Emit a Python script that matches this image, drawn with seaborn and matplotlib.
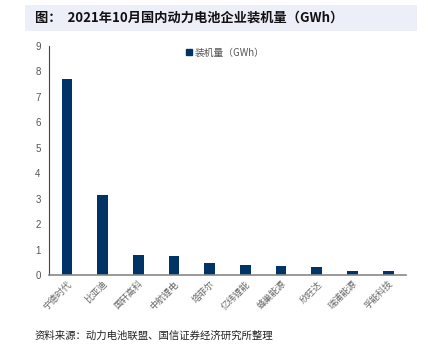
import matplotlib
matplotlib.use("Agg")
import matplotlib.pyplot as plt
import seaborn as sns
import pandas as pd
from matplotlib.patches import Rectangle, Patch

companies = ["宁德时代", "比亚迪", "国轩高科", "中航锂电", "塔菲尔",
             "亿纬锂能", "蜂巢能源", "欣旺达", "瑞浦能源", "孚能科技"]
values = [7.7, 3.13, 0.79, 0.76, 0.46, 0.41, 0.34, 0.33, 0.16, 0.16]
yticks = list(range(0, 10))
title = "图：  2021年10月国内动力电池企业装机量（GWh）"
series_name = "装机量（GWh）"
source = "资料来源：动力电池联盟、国信证券经济研究所整理"

sns.set_style("white")
plt.rcParams['font.family'] = ['Noto Sans CJK SC', 'DejaVu Sans']

df = pd.DataFrame({"company": companies, "value": values})

fig = plt.figure(figsize=(4.28, 3.5), dpi=100)
ax = fig.add_axes([0.1145, 0.214, 0.8341, 0.655])

bar_color = "#003366"
sns.barplot(data=df, x="company", y="value", color=bar_color, width=0.3,
            saturation=1, ax=ax, edgecolor="none")

ax.set_ylim(0, 9)
ax.set_xlim(-0.5, len(companies) - 0.5)
ax.set_yticks(yticks)
ax.set_yticklabels([str(t) for t in yticks], fontsize=7, color="#555555",
                   family=['Liberation Sans', 'DejaVu Sans'])
ax.set_xticks([i for i in range(len(companies))])
ax.set_xticklabels(companies, rotation=45, ha="right", rotation_mode="anchor",
                   fontsize=6.5, color="#666666")
ax.tick_params(axis="x", length=0, pad=3)
ax.set_xticks([i + 0.5 for i in range(-1, len(companies))], minor=True)
ax.tick_params(axis="x", which="minor", length=3, width=0.8, color="#444444", direction="out")
ax.tick_params(axis="y", length=3, width=0.8, color="#444444", direction="out", pad=3)
ax.set_xlabel("")
ax.set_ylabel("")
for s in ["top", "right"]:
    ax.spines[s].set_visible(False)
ax.spines["left"].set_color("#444444")
ax.spines["bottom"].set_color("#888888")
ax.spines["left"].set_linewidth(0.8)
ax.spines["bottom"].set_linewidth(1.2)

leg = ax.legend(handles=[Patch(color=bar_color, label=series_name)],
                loc="upper left", bbox_to_anchor=(0.36, 1.03), frameon=False,
                fontsize=7, handlelength=0.6, handleheight=0.6, handletextpad=0.3)
for t in leg.get_texts():
    t.set_color("#555555")

fig.patches.append(Rectangle((25 / 428, 1 - 31 / 350), 392 / 428, 26 / 350,
                             transform=fig.transFigure, facecolor="#eceef8",
                             edgecolor="none", zorder=0))
fig.text(35 / 428, 1 - 18 / 350, title, fontsize=9.5, fontweight="bold",
         va="center", ha="left", color="#111111")
fig.text(35 / 428, 1 - 336 / 350, source, fontsize=7.5, va="center", ha="left",
         color="#222222")

fig.savefig("out.png", dpi=100)
